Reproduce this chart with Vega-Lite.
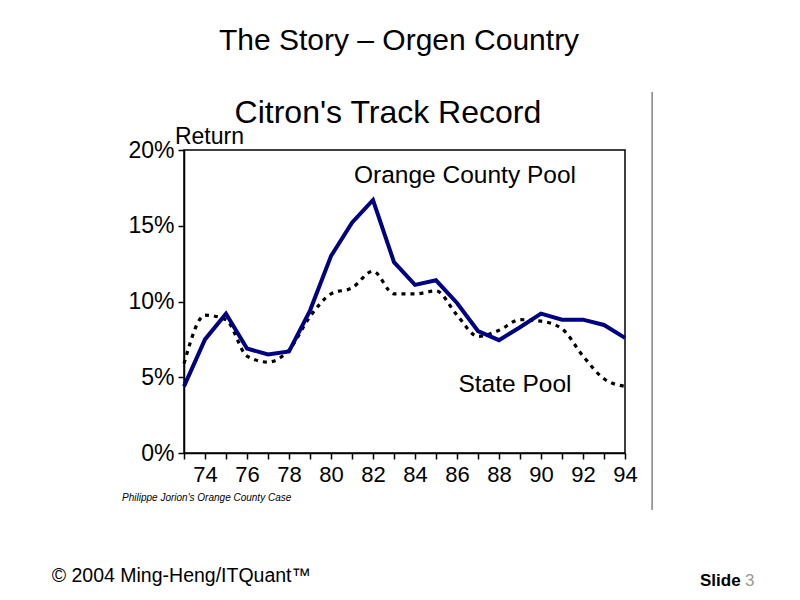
{
  "$schema": "https://vega.github.io/schema/vega-lite/v6.json",
  "width": 441,
  "height": 303,
  "autosize": "none",
  "padding": {"left": 184, "top": 150, "right": 175, "bottom": 147},
  "background": "white",
  "config": {
    "view": {"stroke": "black", "strokeWidth": 1.5},
    "font": "Liberation Sans",
    "axis": {
      "domainColor": "black",
      "domainWidth": 1.5,
      "tickColor": "black",
      "tickWidth": 1.5,
      "tickSize": 6,
      "labelColor": "black",
      "labelFont": "Liberation Sans",
      "labelFontSize": 22,
      "grid": false,
      "title": null
    }
  },
  "data": {
    "values": [
      {"year": 73, "series": "Orange County Pool", "value": 4.4},
      {"year": 74, "series": "Orange County Pool", "value": 7.5},
      {"year": 75, "series": "Orange County Pool", "value": 9.2},
      {"year": 76, "series": "Orange County Pool", "value": 6.9},
      {"year": 77, "series": "Orange County Pool", "value": 6.5},
      {"year": 78, "series": "Orange County Pool", "value": 6.7},
      {"year": 79, "series": "Orange County Pool", "value": 9.4},
      {"year": 80, "series": "Orange County Pool", "value": 13.0},
      {"year": 81, "series": "Orange County Pool", "value": 15.2},
      {"year": 82, "series": "Orange County Pool", "value": 16.7},
      {"year": 83, "series": "Orange County Pool", "value": 12.6},
      {"year": 84, "series": "Orange County Pool", "value": 11.1},
      {"year": 85, "series": "Orange County Pool", "value": 11.4},
      {"year": 86, "series": "Orange County Pool", "value": 9.9},
      {"year": 87, "series": "Orange County Pool", "value": 8.05},
      {"year": 88, "series": "Orange County Pool", "value": 7.45},
      {"year": 89, "series": "Orange County Pool", "value": 8.3},
      {"year": 90, "series": "Orange County Pool", "value": 9.2},
      {"year": 91, "series": "Orange County Pool", "value": 8.8},
      {"year": 92, "series": "Orange County Pool", "value": 8.8},
      {"year": 93, "series": "Orange County Pool", "value": 8.45},
      {"year": 94, "series": "Orange County Pool", "value": 7.6},
      {"year": 73, "series": "State Pool", "value": 5.9},
      {"year": 74, "series": "State Pool", "value": 9.1},
      {"year": 75, "series": "State Pool", "value": 8.8},
      {"year": 76, "series": "State Pool", "value": 6.4},
      {"year": 77, "series": "State Pool", "value": 6.0},
      {"year": 78, "series": "State Pool", "value": 6.8},
      {"year": 79, "series": "State Pool", "value": 9.0},
      {"year": 80, "series": "State Pool", "value": 10.5},
      {"year": 81, "series": "State Pool", "value": 10.9},
      {"year": 82, "series": "State Pool", "value": 12.0},
      {"year": 83, "series": "State Pool", "value": 10.5},
      {"year": 84, "series": "State Pool", "value": 10.5},
      {"year": 85, "series": "State Pool", "value": 10.7},
      {"year": 86, "series": "State Pool", "value": 9.1},
      {"year": 87, "series": "State Pool", "value": 7.7},
      {"year": 88, "series": "State Pool", "value": 8.1},
      {"year": 89, "series": "State Pool", "value": 8.8},
      {"year": 90, "series": "State Pool", "value": 8.7},
      {"year": 91, "series": "State Pool", "value": 8.2},
      {"year": 92, "series": "State Pool", "value": 6.4},
      {"year": 93, "series": "State Pool", "value": 4.9},
      {"year": 94, "series": "State Pool", "value": 4.4}
    ]
  },
  "encoding": {
    "x": {
      "field": "year",
      "type": "quantitative",
      "scale": {"domain": [73, 94], "nice": false, "zero": false},
      "axis": {
        "values": [73,74,75,76,77,78,79,80,81,82,83,84,85,86,87,88,89,90,91,92,93,94],
        "labelExpr": "datum.value % 2 == 0 ? datum.value : ''",
        "labelOverlap": false,
        "labelPadding": 5,
        "labelFlush": false
      }
    },
    "y": {
      "field": "value",
      "type": "quantitative",
      "scale": {"domain": [0, 20], "nice": false},
      "axis": {
        "values": [0, 5, 10, 15, 20],
        "labelExpr": "datum.value + '%'",
        "labelPadding": 4,
        "labelFontSize": 23,
        "labelFlush": false
      }
    }
  },
  "layer": [
    {
      "transform": [{"filter": "datum.series == 'State Pool'"}],
      "mark": {"type": "line", "color": "black", "strokeWidth": 3.2, "strokeDash": [4, 5], "interpolate": "monotone"}
    },
    {
      "transform": [{"filter": "datum.series == 'Orange County Pool'"}],
      "mark": {"type": "line", "color": "#000080", "strokeWidth": 4}
    },
    {
      "transform": [{"filter": "datum.year == 73 && datum.series == 'State Pool'"}],
      "mark": {"type": "text", "font": "Liberation Sans", "color": "black", "fontSize": 30, "align": "center", "baseline": "alphabetic"},
      "encoding": {"x": {"datum": 83.24}, "y": {"datum": 26.6}, "text": {"value": "The Story – Orgen Country"}}
    },
    {
      "transform": [{"filter": "datum.year == 73 && datum.series == 'State Pool'"}],
      "mark": {"type": "text", "font": "Liberation Sans", "color": "black", "fontSize": 32, "align": "center", "baseline": "alphabetic"},
      "encoding": {"x": {"datum": 82.71}, "y": {"datum": 21.78}, "text": {"value": "Citron's Track Record"}}
    },
    {
      "transform": [{"filter": "datum.year == 73 && datum.series == 'State Pool'"}],
      "mark": {"type": "text", "font": "Liberation Sans", "color": "black", "fontSize": 23, "align": "left", "baseline": "alphabetic"},
      "encoding": {"x": {"datum": 72.57}, "y": {"datum": 20.4}, "text": {"value": "Return"}}
    },
    {
      "transform": [{"filter": "datum.year == 73 && datum.series == 'State Pool'"}],
      "mark": {"type": "text", "font": "Liberation Sans", "color": "black", "fontSize": 24.5, "align": "center", "baseline": "alphabetic"},
      "encoding": {"x": {"datum": 86.38}, "y": {"datum": 17.82}, "text": {"value": "Orange County Pool"}}
    },
    {
      "transform": [{"filter": "datum.year == 73 && datum.series == 'State Pool'"}],
      "mark": {"type": "text", "font": "Liberation Sans", "color": "black", "fontSize": 24.5, "align": "center", "baseline": "alphabetic"},
      "encoding": {"x": {"datum": 88.76}, "y": {"datum": 4.05}, "text": {"value": "State Pool"}}
    },
    {
      "transform": [{"filter": "datum.year == 73 && datum.series == 'State Pool'"}],
      "mark": {"type": "text", "font": "Liberation Sans", "color": "black", "fontSize": 10, "fontStyle": "italic", "align": "left", "baseline": "alphabetic"},
      "encoding": {"x": {"datum": 70.05}, "y": {"datum": -3.15}, "text": {"value": "Philippe Jorion's Orange County Case"}}
    },
    {
      "transform": [{"filter": "datum.year == 73 && datum.series == 'State Pool'"}],
      "mark": {"type": "text", "font": "Liberation Sans", "color": "black", "fontSize": 19.5, "align": "left", "baseline": "alphabetic"},
      "encoding": {"x": {"datum": 66.7}, "y": {"datum": -8.5}, "text": {"value": "© 2004  Ming-Heng/ITQuant™"}}
    },
    {
      "transform": [{"filter": "datum.year == 73 && datum.series == 'State Pool'"}],
      "mark": {"type": "text", "font": "Liberation Sans", "color": "black", "fontSize": 17, "fontWeight": "bold", "align": "left", "baseline": "alphabetic"},
      "encoding": {"x": {"datum": 97.57}, "y": {"datum": -8.78}, "text": {"value": "Slide"}}
    },
    {
      "transform": [{"filter": "datum.year == 73 && datum.series == 'State Pool'"}],
      "mark": {"type": "text", "font": "Liberation Sans", "fontSize": 17, "align": "left", "baseline": "alphabetic", "color": "#9a9a9a"},
      "encoding": {"x": {"datum": 99.72}, "y": {"datum": -8.78}, "text": {"value": "3"}}
    },
    {
      "transform": [{"filter": "datum.year == 73 && datum.series == 'State Pool'"}],
      "mark": {"type": "rule", "color": "#444444", "strokeWidth": 1},
      "encoding": {"x": {"datum": 95.29}, "y": {"datum": 23.83}, "y2": {"datum": -3.76}}
    }
  ]
}
